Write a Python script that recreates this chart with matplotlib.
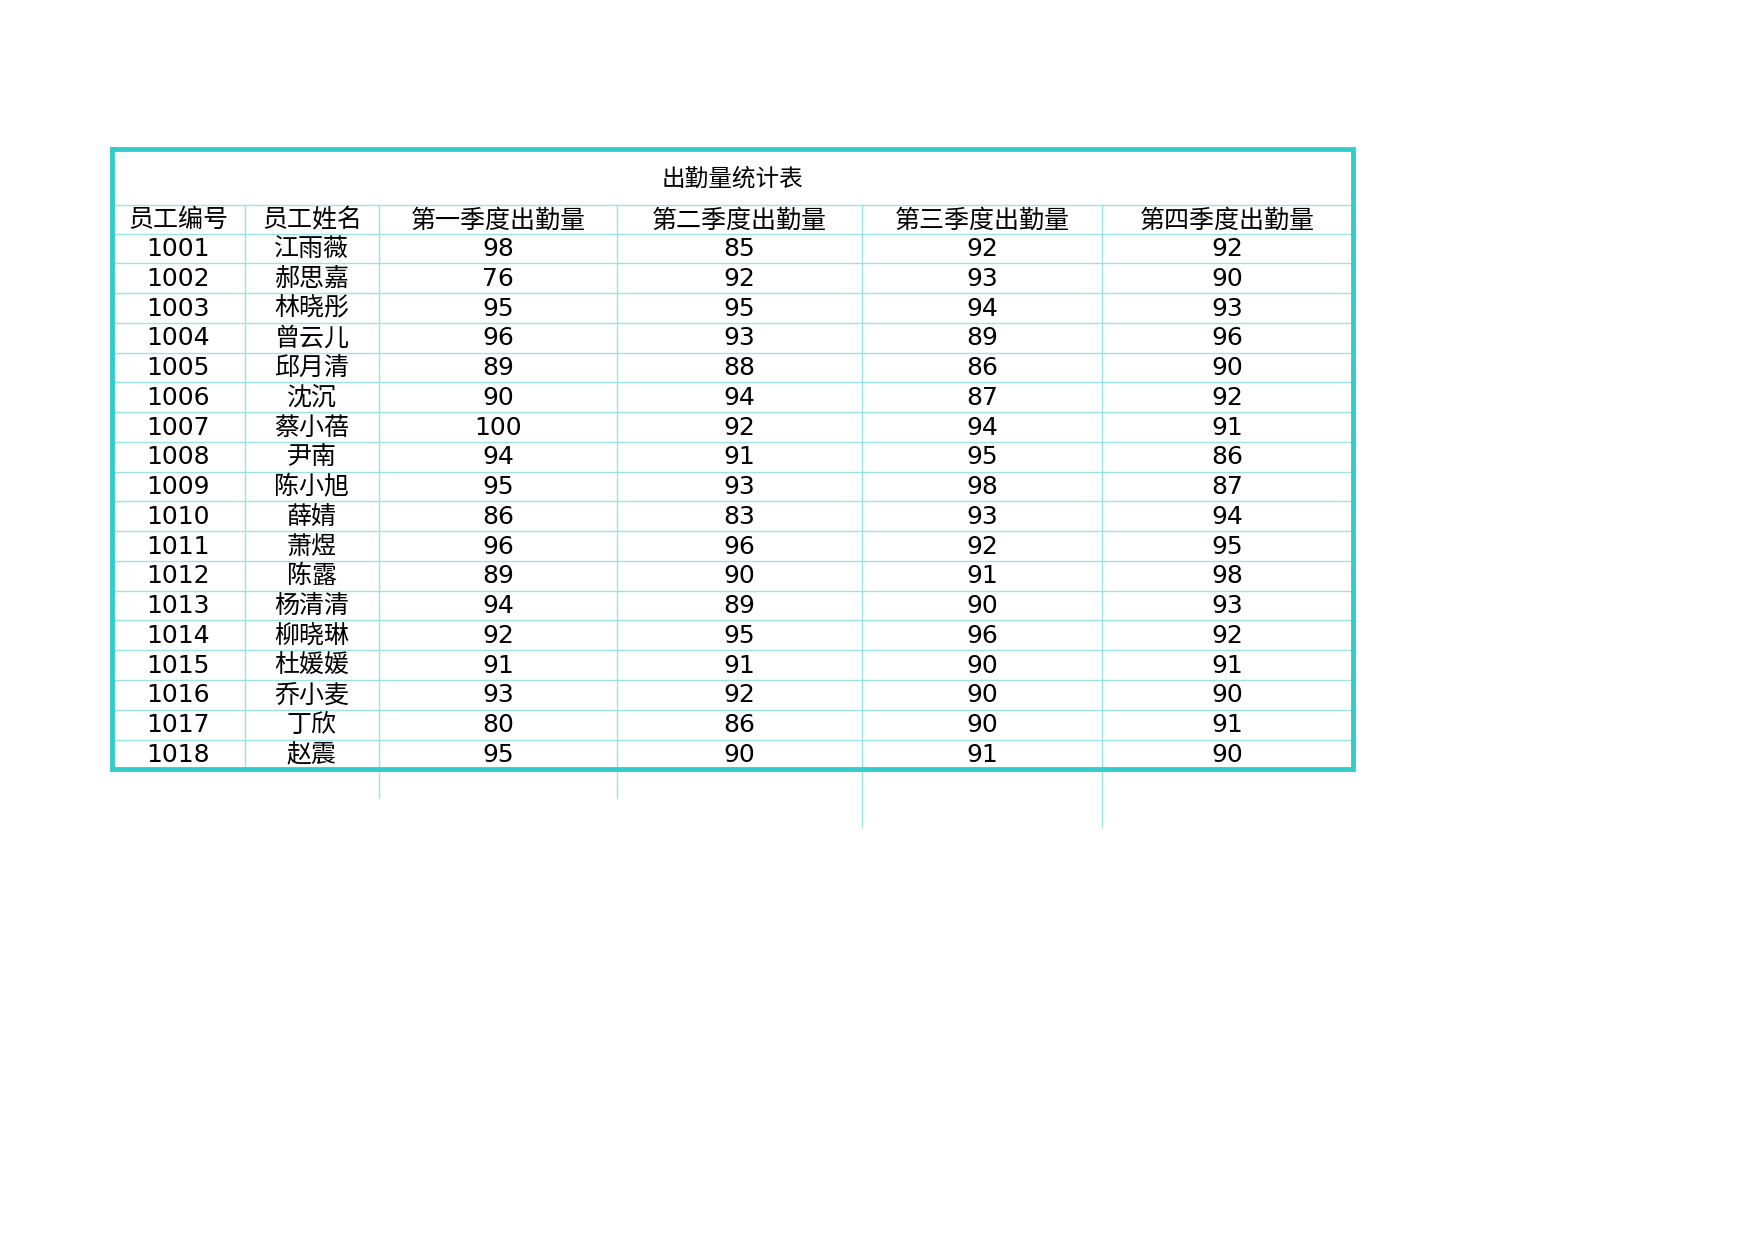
import matplotlib.pyplot as plt

plt.rcParams['font.family'] = ['DejaVu Sans', 'Noto Sans CJK SC']

title = "出勤量统计表"
headers = ["员工编号", "员工姓名", "第一季度出勤量", "第二季度出勤量", "第三季度出勤量", "第四季度出勤量"]
ids = [str(1001 + i) for i in range(18)]
names = ["江雨薇", "郝思嘉", "林晓彤", "曾云儿", "邱月清", "沈沉", "蔡小蓓", "尹南", "陈小旭",
         "薛婧", "萧煜", "陈露", "杨清清", "柳晓琳", "杜媛媛", "乔小麦", "丁欣", "赵震"]
q1 = [98, 76, 95, 96, 89, 90, 100, 94, 95, 86, 96, 89, 94, 92, 91, 93, 80, 95]
q2 = [85, 92, 95, 93, 88, 94, 92, 91, 93, 83, 96, 90, 89, 95, 91, 92, 86, 90]
q3 = [92, 93, 94, 89, 86, 87, 94, 95, 98, 93, 92, 91, 90, 96, 90, 90, 90, 91]
q4 = [92, 90, 93, 96, 90, 92, 91, 86, 87, 94, 95, 98, 93, 92, 91, 90, 91, 90]

# layout in reference pixel units
W, H = 1569, 1109
col_x = [100, 219, 339, 552, 771, 986, 1210]
top, title_bottom, header_bottom, bottom = 133, 183, 209, 688
row_h = (bottom - header_bottom) / len(ids)

border = "#33CCCC"
grid = "#9CE3E3"

fig = plt.figure(figsize=(17.54, 12.4), dpi=100)
ax = fig.add_axes([0, 0, 1, 1])
ax.set_xlim(0, W)
ax.set_ylim(H, 0)
ax.axis("off")

# horizontal grid lines
ax.plot([col_x[0], col_x[-1]], [title_bottom, title_bottom], color=grid, lw=1)
for i in range(len(ids)):
    y = header_bottom + i * row_h
    ax.plot([col_x[0], col_x[-1]], [y, y], color=grid, lw=1)

# vertical grid lines (some extend below the table)
for x, yb in zip(col_x[1:-1], [bottom, 714, 714, 740, 740]):
    ax.plot([x, x], [title_bottom, yb], color=grid, lw=1)

# outer border
ax.plot([col_x[0], col_x[-1], col_x[-1], col_x[0], col_x[0]],
        [top, top, bottom, bottom, top], color=border, lw=3.5, solid_joinstyle="miter")

ax.text((col_x[0] + col_x[-1]) / 2, (top + title_bottom) / 2 + 2, title,
        ha="center", va="center", fontsize=17)

centers = [(a + b) / 2 for a, b in zip(col_x[:-1], col_x[1:])]
for c, h in zip(centers, headers):
    ax.text(c, (title_bottom + header_bottom) / 2 + 1, h, ha="center", va="center", fontsize=18)

columns = [ids, names, q1, q2, q3, q4]
for j, col in enumerate(columns):
    for i, v in enumerate(col):
        y = header_bottom + (i + 0.5) * row_h + 0.5
        ax.text(centers[j], y, str(v), ha="center", va="center", fontsize=18)

fig.savefig("out.png", dpi=100)
